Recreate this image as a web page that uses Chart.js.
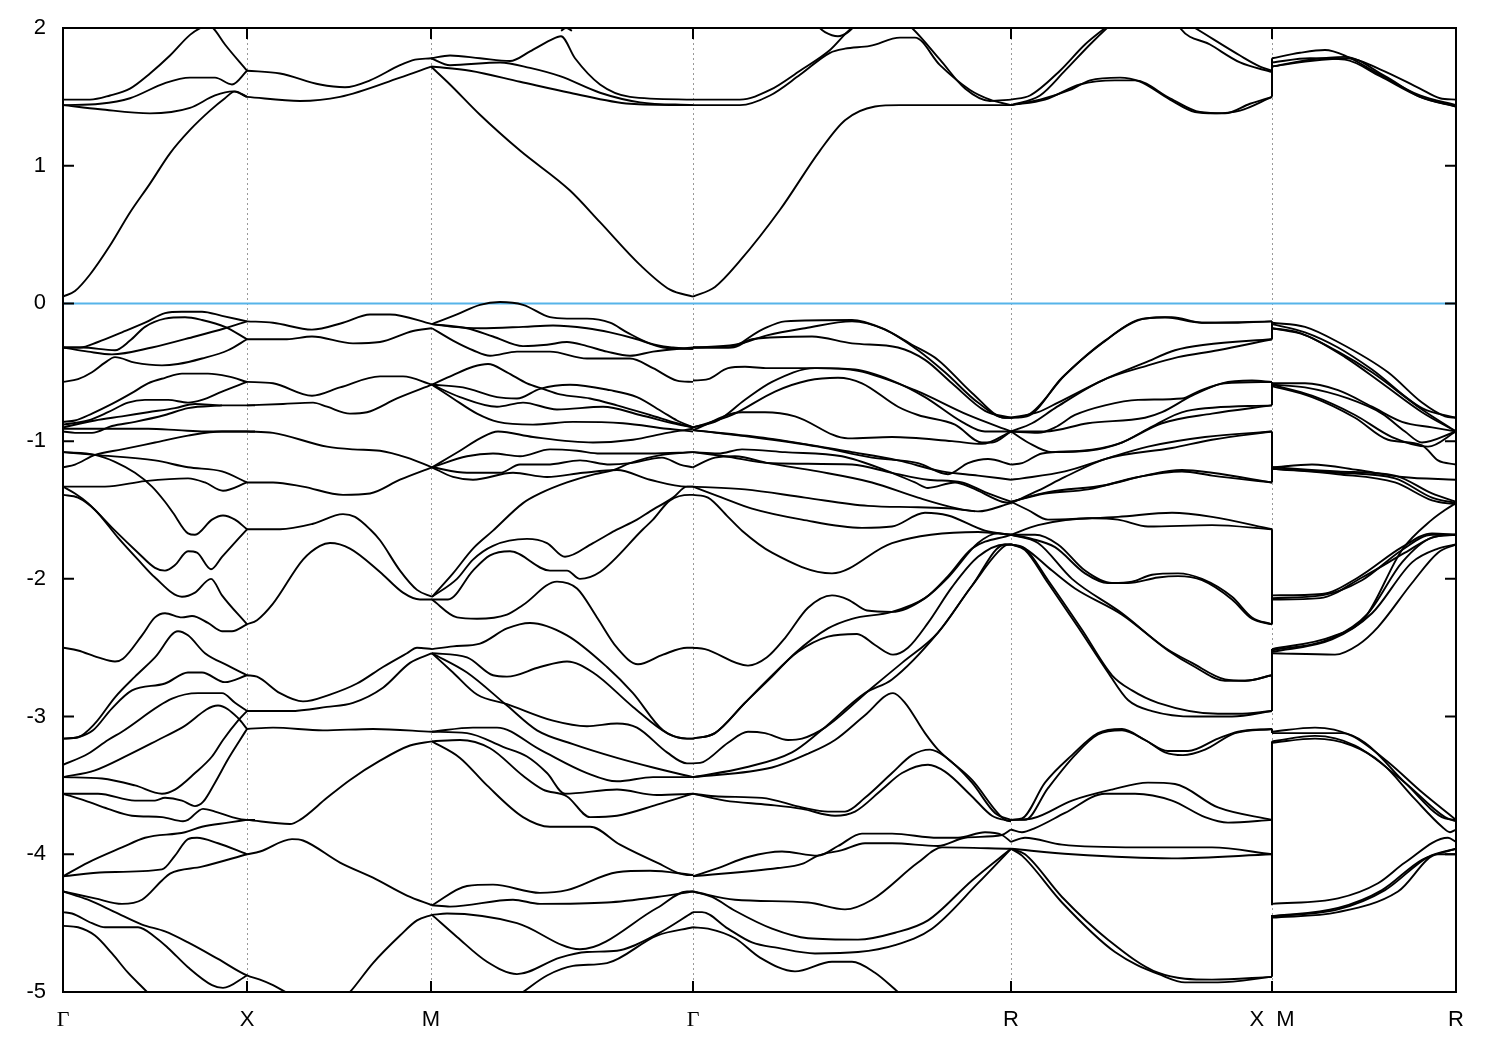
<!DOCTYPE html>
<html>
<head>
<meta charset="utf-8">
<title>Band structure</title>
<script src="https://cdn.jsdelivr.net/npm/chart.js@4/dist/chart.umd.min.js"></script>
<style>
html, body { margin: 0; padding: 0; background: #fff; }
canvas { display: block; }
</style>
</head>
<body>
<canvas id="bands" width="1500" height="1050"></canvas>
<script>
// path positions along k and their labels
const kTicks = [0, 184, 368, 630, 948, 1209, 1393];
const kLabels = ['Γ', 'X', 'M', 'Γ', 'R', 'X  M', 'R'];
const energyTicks = [-5, -4, -3, -2, -1, 0, 1, 2];
const fermiLevel = [0, 0];

// every band piece is k, E, k, E, ...
const conduction = [
  [0,.05, 12,.09, 27,.21, 47,.42, 67,.66, 87,.87, 107,1.09, 127,1.26, 147,1.40, 162,1.49, 172,1.54, 184,1.50],
  [0,1.48, 27,1.48, 47,1.51, 67,1.56, 87,1.67, 107,1.80, 127,1.95, 140,2.01, 144,2.02, 150,2.0, 162,1.88, 184,1.69],
  [0,1.44, 37,1.45, 67,1.49, 102,1.60, 127,1.64, 152,1.64, 169,1.59, 184,1.69],
  [0,1.44, 37,1.41, 87,1.38, 127,1.42, 152,1.51, 170,1.54, 184,1.50],
  [184,1.50, 237,1.47, 277,1.50, 337,1.64, 368,1.72],
  [184,1.69, 217,1.67, 257,1.59, 282,1.57, 307,1.62, 337,1.73, 352,1.77, 368,1.78],
  [368,1.72, 387,1.59, 417,1.37, 457,1.11, 507,.82, 537,.59, 577,.28, 607,.10, 630,.05],
  [368,1.78, 387,1.80, 417,1.78, 447,1.76, 467,1.83, 487,1.91, 498,1.94, 512,1.78, 537,1.59, 567,1.50, 630,1.48],
  [368,1.72, 407,1.69, 457,1.61, 507,1.53, 567,1.45, 630,1.44],
  [368,1.78, 387,1.73, 437,1.75, 467,1.71, 497,1.65, 537,1.53, 577,1.46, 630,1.44],
  [498,1.98, 503,2.0, 509,1.98],
  [630,.05, 652,.12, 677,.31, 717,.68, 757,1.11, 782,1.33, 812,1.43, 837,1.44, 948,1.44],
  [630,1.48, 677,1.48, 707,1.55, 737,1.69, 767,1.84, 787,1.99, 797,2.04],
  [630,1.44, 677,1.44, 707,1.51, 737,1.66, 767,1.82, 782,1.85, 807,1.87, 837,1.93, 852,1.93, 877,1.73, 907,1.55, 927,1.48, 948,1.44],
  [752,2.03, 762,1.97, 775,1.94, 785,1.97, 795,2.04],
  [842,2.04, 849,2.0, 877,1.77, 902,1.56, 927,1.47, 948,1.48],
  [948,1.48, 967,1.51, 997,1.69, 1022,1.88, 1042,2.0, 1052,2.06],
  [948,1.44, 977,1.51, 1002,1.69, 1027,1.88, 1047,2.02, 1055,2.07],
  [1115,2.03, 1117,2.0, 1147,1.88, 1177,1.75, 1209,1.68],
  [1125,2.03, 1132,2.0, 1177,1.80, 1197,1.72, 1209,1.69],
  [948,1.44, 977,1.48, 1007,1.55, 1027,1.62, 1057,1.64, 1077,1.61, 1107,1.48, 1132,1.39, 1152,1.38, 1177,1.40, 1209,1.50],
  [948,1.44, 982,1.48, 1017,1.59, 1052,1.62, 1072,1.62, 1107,1.49, 1137,1.39, 1162,1.38, 1187,1.45, 1209,1.50],
  [1209,1.78, 1237,1.82, 1262,1.84, 1282,1.80, 1317,1.66, 1357,1.51, 1393,1.44],
  [1209,1.75, 1247,1.78, 1282,1.77, 1317,1.65, 1357,1.50, 1393,1.43],
  [1209,1.72, 1247,1.77, 1282,1.79, 1322,1.65, 1357,1.50, 1393,1.43],
  [1209,1.72, 1247,1.76, 1285,1.78, 1317,1.70, 1357,1.56, 1377,1.49, 1393,1.48]
];

const gammaToX = [
  [0,-.32, 17,-.32, 35,-.28, 59,-.21, 82,-.14, 102,-.07, 119,-.06, 139,-.06, 159,-.09, 184,-.13],
  [0,-.32, 19,-.32, 52,-.34, 67,-.27, 82,-.17, 102,-.11, 122,-.10, 139,-.12, 162,-.17, 184,-.26],
  [0,-.32, 25,-.35, 49,-.37, 89,-.32, 132,-.24, 162,-.18, 184,-.13],
  [0,-.57, 15,-.55, 29,-.50, 42,-.43, 52,-.39, 72,-.43, 99,-.45, 115,-.44, 139,-.40, 165,-.34, 184,-.26],
  [0,-.86, 12,-.85, 29,-.80, 49,-.73, 69,-.65, 85,-.58, 102,-.54, 119,-.51, 145,-.51, 165,-.53, 184,-.57],
  [0,-.88, 25,-.85, 45,-.79, 65,-.72, 82,-.70, 105,-.70, 125,-.72, 139,-.70, 159,-.64, 184,-.57],
  [0,-.90, 32,-.85, 59,-.82, 85,-.79, 112,-.76, 132,-.73, 159,-.74, 192,-.74],
  [0,-.93, 12,-.94, 29,-.94, 49,-.89, 72,-.86, 102,-.81, 125,-.76, 159,-.74],
  [0,-.91, 42,-.91, 85,-.91, 115,-.92, 142,-.93, 192,-.93],
  [0,-1.19, 12,-1.17, 32,-1.10, 59,-1.06, 92,-1.01, 125,-.96, 159,-.93, 184,-.93],
  [0,-1.08, 32,-1.10, 92,-1.14, 125,-1.19, 159,-1.22, 184,-1.30],
  [0,-1.08, 32,-1.10, 52,-1.15, 72,-1.23, 89,-1.33, 102,-1.44, 110,-1.52, 125,-1.67, 132,-1.68, 149,-1.57, 160,-1.54, 172,-1.57, 184,-1.64],
  [0,-1.33, 42,-1.33, 82,-1.29, 125,-1.27, 142,-1.30, 160,-1.36, 184,-1.30],
  [0,-1.33, 12,-1.38, 25,-1.45, 52,-1.65, 75,-1.81, 92,-1.92, 102,-1.94, 112,-1.90, 125,-1.80, 134,-1.81, 148,-1.93, 159,-1.84, 184,-1.64],
  [0,-1.39, 15,-1.41, 32,-1.50, 55,-1.70, 75,-1.86, 92,-1.99, 119,-2.13, 132,-2.10, 148,-2.00, 159,-2.12, 184,-2.33],
  [0,-2.50, 15,-2.52, 35,-2.57, 52,-2.60, 60,-2.58, 79,-2.41, 92,-2.28, 102,-2.25, 119,-2.28, 129,-2.27, 145,-2.32, 159,-2.38, 169,-2.38, 184,-2.33],
  [0,-3.16, 15,-3.15, 32,-3.05, 52,-2.86, 72,-2.71, 92,-2.57, 115,-2.38, 125,-2.41, 142,-2.54, 165,-2.63, 184,-2.70],
  [0,-3.16, 15,-3.15, 30,-3.10, 49,-2.94, 69,-2.81, 102,-2.76, 125,-2.68, 139,-2.68, 162,-2.75, 184,-2.70],
  [0,-3.35, 25,-3.27, 45,-3.17, 59,-3.11, 109,-2.87, 135,-2.83, 159,-2.83, 172,-2.90, 184,-2.96],
  [0,-3.44, 32,-3.39, 65,-3.28, 95,-3.17, 119,-3.08, 155,-2.92, 175,-3.01, 184,-3.09],
  [0,-3.44, 39,-3.45, 72,-3.50, 99,-3.56, 112,-3.53, 132,-3.41, 149,-3.29, 160,-3.17, 175,-3.03, 184,-2.96],
  [0,-3.56, 35,-3.56, 72,-3.61, 92,-3.61, 102,-3.59, 119,-3.61, 132,-3.65, 140,-3.62, 152,-3.48, 165,-3.31, 177,-3.17, 184,-3.09],
  [0,-3.56, 22,-3.61, 45,-3.67, 69,-3.72, 99,-3.73, 120,-3.76, 125,-3.75, 140,-3.67, 152,-3.69, 169,-3.73, 184,-3.75, 192,-3.75],
  [0,-4.16, 25,-4.06, 59,-3.95, 82,-3.88, 122,-3.84, 139,-3.80, 165,-3.77, 184,-3.75],
  [0,-4.16, 42,-4.13, 99,-4.11, 112,-4.01, 125,-3.89, 134,-3.88, 155,-3.92, 184,-4.0],
  [0,-4.27, 32,-4.32, 59,-4.36, 79,-4.33, 99,-4.19, 107,-4.14, 139,-4.09, 184,-4.0],
  [0,-4.27, 25,-4.33, 52,-4.42, 79,-4.51, 102,-4.56, 125,-4.64, 155,-4.76, 184,-4.88, 197,-4.91, 210,-4.95, 225,-5.01],
  [0,-4.42, 9,-4.43, 29,-4.50, 42,-4.53, 75,-4.53, 92,-4.60, 105,-4.68, 125,-4.82, 149,-4.95, 160,-4.97, 184,-4.88],
  [0,-4.52, 15,-4.53, 32,-4.59, 49,-4.72, 65,-4.86, 84,-5.0, 90,-5.05]
];

const xToM = [
  [184,-.13, 210,-.14, 249,-.19, 280,-.14, 307,-.08, 327,-.08, 369,-.15],
  [184,-.26, 224,-.26, 249,-.24, 290,-.29, 317,-.28, 350,-.20, 369,-.18],
  [184,-.57, 210,-.58, 249,-.67, 277,-.61, 317,-.53, 340,-.53, 369,-.59],
  [184,-.74, 220,-.73, 250,-.72, 264,-.75, 287,-.80, 304,-.79, 334,-.69, 369,-.59],
  [184,-.93, 210,-.94, 264,-1.04, 290,-1.06, 317,-1.07, 344,-1.12, 369,-1.19],
  [184,-1.30, 210,-1.30, 240,-1.33, 280,-1.39, 307,-1.38, 337,-1.28, 369,-1.19],
  [184,-1.64, 217,-1.64, 250,-1.60, 280,-1.53, 292,-1.55, 307,-1.64, 317,-1.72, 337,-1.94, 354,-2.08, 369,-2.13],
  [184,-2.33, 194,-2.30, 210,-2.18, 240,-1.86, 257,-1.76, 267,-1.74, 287,-1.78, 317,-1.95, 340,-2.10, 357,-2.15, 369,-2.15],
  [184,-2.70, 194,-2.71, 217,-2.83, 240,-2.89, 267,-2.84, 294,-2.76, 320,-2.64, 344,-2.54, 354,-2.50, 369,-2.51],
  [184,-2.96, 227,-2.96, 264,-2.93, 290,-2.90, 320,-2.79, 347,-2.61, 369,-2.54],
  [184,-3.09, 210,-3.08, 260,-3.10, 310,-3.09, 369,-3.11],
  [184,-3.75, 227,-3.78, 237,-3.75, 264,-3.59, 287,-3.46, 317,-3.32, 347,-3.21, 369,-3.18],
  [184,-4.0, 197,-3.98, 229,-3.89, 240,-3.90, 277,-4.06, 310,-4.17, 344,-4.30, 369,-4.37],
  [280,-5.05, 287,-5.0, 310,-4.79, 337,-4.59, 354,-4.48, 369,-4.44]
];

const mToGamma = [
  [369,-.15, 394,-.08, 417,-.01, 437,.01, 460,-.01, 487,-.10, 504,-.11, 524,-.11, 547,-.14, 564,-.21, 587,-.29, 610,-.32, 630,-.33],
  [369,-.15, 390,-.17, 417,-.18, 460,-.17, 490,-.16, 524,-.18, 547,-.21, 574,-.26, 600,-.32, 630,-.33],
  [369,-.15, 404,-.18, 430,-.24, 460,-.31, 484,-.30, 504,-.28, 524,-.31, 544,-.35, 567,-.38, 590,-.35, 630,-.32],
  [369,-.18, 390,-.27, 410,-.34, 427,-.38, 454,-.35, 487,-.35, 524,-.40, 567,-.40, 590,-.47, 614,-.56, 630,-.57],
  [369,-.59, 390,-.52, 410,-.46, 425,-.44, 444,-.50, 464,-.58, 480,-.62, 497,-.66, 527,-.69, 554,-.74, 587,-.81, 614,-.87, 630,-.90],
  [369,-.59, 400,-.61, 434,-.68, 454,-.69, 477,-.62, 507,-.59, 547,-.63, 574,-.68, 600,-.79, 614,-.85, 630,-.90],
  [369,-.59, 397,-.68, 434,-.75, 460,-.72, 494,-.77, 540,-.75, 577,-.81, 610,-.87, 630,-.90],
  [369,-.59, 390,-.69, 414,-.80, 435,-.86, 470,-.88, 510,-.86, 560,-.87, 604,-.91, 630,-.93],
  [369,-1.19, 397,-1.07, 417,-.98, 435,-.93, 470,-.97, 530,-1.01, 570,-.99, 604,-.94, 630,-.91],
  [369,-1.19, 404,-1.11, 430,-1.09, 457,-1.11, 487,-1.06, 514,-1.07, 537,-1.09, 587,-1.09, 630,-1.08],
  [369,-1.19, 404,-1.23, 437,-1.23, 457,-1.17, 484,-1.17, 517,-1.14, 547,-1.17, 567,-1.16, 599,-1.12, 617,-1.17, 630,-1.19],
  [369,-1.19, 390,-1.26, 410,-1.28, 450,-1.23, 484,-1.26, 520,-1.23, 554,-1.21, 587,-1.28, 624,-1.33, 630,-1.33],
  [369,-2.13, 390,-1.96, 410,-1.78, 430,-1.65, 460,-1.45, 477,-1.38, 504,-1.30, 532,-1.24, 550,-1.21, 567,-1.16, 599,-1.10, 630,-1.08],
  [369,-2.13, 394,-2.0, 410,-1.86, 430,-1.76, 464,-1.71, 484,-1.74, 502,-1.84, 530,-1.74, 552,-1.65, 574,-1.57, 587,-1.51, 610,-1.41, 624,-1.33, 630,-1.33],
  [369,-2.15, 385,-2.15, 410,-1.94, 427,-1.83, 447,-1.80, 487,-1.94, 504,-1.94, 517,-2.0, 537,-1.95, 580,-1.64, 590,-1.57, 607,-1.43, 627,-1.39, 630,-1.39],
  [369,-2.15, 394,-2.28, 414,-2.29, 444,-2.26, 460,-2.19, 494,-2.02, 514,-2.07, 534,-2.28, 554,-2.50, 575,-2.62, 600,-2.55, 624,-2.50, 630,-2.50],
  [369,-2.51, 390,-2.49, 417,-2.47, 444,-2.36, 467,-2.32, 504,-2.41, 544,-2.64, 570,-2.83, 600,-3.10, 624,-3.16, 630,-3.16],
  [369,-2.54, 404,-2.57, 430,-2.70, 444,-2.71, 477,-2.64, 504,-2.60, 530,-2.68, 570,-2.93, 604,-3.12, 624,-3.16, 630,-3.16],
  [369,-2.54, 390,-2.68, 414,-2.84, 444,-2.91, 490,-3.03, 524,-3.07, 554,-3.05, 574,-3.08, 604,-3.26, 624,-3.34, 630,-3.34],
  [369,-2.54, 404,-2.68, 444,-2.92, 474,-3.10, 510,-3.20, 554,-3.30, 590,-3.37, 630,-3.44],
  [369,-3.11, 410,-3.08, 434,-3.08, 477,-3.24, 524,-3.41, 554,-3.47, 590,-3.44, 630,-3.44],
  [369,-3.11, 404,-3.12, 440,-3.22, 464,-3.29, 484,-3.41, 502,-3.56, 554,-3.53, 594,-3.57, 630,-3.56],
  [369,-3.18, 397,-3.17, 427,-3.23, 460,-3.43, 480,-3.53, 504,-3.58, 527,-3.73, 554,-3.72, 594,-3.64, 630,-3.56],
  [369,-3.18, 397,-3.30, 424,-3.50, 460,-3.73, 487,-3.80, 527,-3.80, 557,-3.93, 594,-4.06, 624,-4.15, 630,-4.15],
  [369,-4.37, 404,-4.23, 430,-4.22, 477,-4.28, 504,-4.26, 554,-4.13, 587,-4.12, 630,-4.15],
  [369,-4.37, 387,-4.38, 450,-4.33, 477,-4.36, 544,-4.35, 594,-4.31, 630,-4.27],
  [369,-4.44, 384,-4.43, 454,-4.50, 517,-4.69, 594,-4.39, 624,-4.27, 630,-4.27],
  [369,-4.44, 394,-4.60, 424,-4.78, 454,-4.87, 497,-4.75, 524,-4.71, 554,-4.70, 594,-4.58, 630,-4.42],
  [460,-5.0, 484,-4.88, 510,-4.81, 544,-4.79, 594,-4.59, 630,-4.53]
];

const gammaToR = [
  [630,-.32, 665,-.32, 699,-.19, 722,-.13, 789,-.12, 819,-.18, 849,-.30, 875,-.41, 909,-.65, 942,-.83, 948,-.83],
  [630,-.32, 672,-.30, 705,-.23, 742,-.18, 789,-.13, 822,-.19, 855,-.34, 882,-.50, 915,-.72, 942,-.83, 948,-.83],
  [630,-.32, 669,-.32, 689,-.26, 749,-.24, 789,-.29, 835,-.32, 862,-.41, 889,-.58, 922,-.78, 948,-.83],
  [630,-.56, 645,-.55, 665,-.47, 682,-.46, 705,-.47, 755,-.47, 795,-.49, 852,-.63, 905,-.81, 948,-.93],
  [630,-.90, 655,-.85, 682,-.70, 709,-.57, 752,-.47, 792,-.48, 829,-.56, 862,-.68, 899,-.86, 922,-.93, 948,-.93],
  [630,-.90, 669,-.81, 712,-.64, 745,-.56, 775,-.54, 799,-.58, 835,-.75, 855,-.81, 892,-.88, 919,-1.01, 929,-1.01, 948,-.93],
  [630,-.92, 679,-.79, 702,-.79, 732,-.82, 785,-.98, 829,-.97, 889,-1.0, 919,-1.02, 948,-.93],
  [630,-.92, 689,-.97, 755,-1.04, 809,-1.12, 855,-1.16, 885,-1.24, 905,-1.16, 925,-1.13, 948,-1.17],
  [630,-.92, 705,-.98, 789,-1.08, 835,-1.14, 879,-1.22, 915,-1.25, 948,-1.28],
  [630,-1.08, 655,-1.09, 679,-1.06, 722,-1.08, 779,-1.11, 822,-1.21, 852,-1.30, 865,-1.34, 892,-1.30, 909,-1.34, 939,-1.44, 948,-1.45],
  [630,-1.08, 662,-1.11, 709,-1.16, 789,-1.17, 829,-1.23, 865,-1.28, 899,-1.30, 922,-1.37, 948,-1.44],
  [630,-1.19, 652,-1.12, 672,-1.11, 705,-1.16, 755,-1.22, 809,-1.30, 855,-1.41, 895,-1.49, 915,-1.51, 948,-1.45],
  [630,-1.33, 682,-1.35, 742,-1.41, 805,-1.47, 855,-1.48, 889,-1.49, 912,-1.51],
  [630,-1.33, 659,-1.41, 689,-1.49, 739,-1.57, 799,-1.63, 829,-1.62, 862,-1.52, 885,-1.54, 922,-1.65, 948,-1.68],
  [630,-1.39, 645,-1.41, 665,-1.55, 679,-1.65, 709,-1.81, 769,-1.96, 829,-1.74, 915,-1.66, 948,-1.68],
  [630,-3.16, 652,-3.12, 682,-2.90, 709,-2.71, 732,-2.54, 765,-2.36, 789,-2.29, 829,-2.24, 862,-2.14, 885,-1.99, 915,-1.74, 935,-1.67, 948,-1.68],
  [630,-2.50, 642,-2.51, 685,-2.63, 704,-2.57, 722,-2.43, 745,-2.21, 769,-2.12, 785,-2.15, 804,-2.23, 829,-2.24, 862,-2.14, 885,-1.98, 909,-1.78, 948,-1.68],
  [630,-3.16, 652,-3.12, 682,-2.90, 705,-2.73, 735,-2.53, 765,-2.42, 794,-2.40, 812,-2.48, 830,-2.55, 845,-2.50, 865,-2.32, 889,-2.06, 915,-1.84, 942,-1.75, 948,-1.75],
  [630,-3.34, 640,-3.33, 665,-3.19, 685,-3.11, 702,-3.12, 725,-3.17, 739,-3.16, 762,-3.08, 809,-2.79, 839,-2.61, 875,-2.39, 909,-2.05, 942,-1.76, 948,-1.75],
  [630,-3.44, 682,-3.37, 729,-3.26, 755,-3.12, 802,-2.83, 829,-2.73, 875,-2.39, 909,-2.05, 942,-1.75, 948,-1.75],
  [630,-3.44, 709,-3.37, 745,-3.27, 772,-3.17, 802,-2.99, 830,-2.83, 842,-2.90, 862,-3.12, 875,-3.24, 909,-3.46, 942,-3.75, 948,-3.76],
  [630,-3.56, 655,-3.58, 699,-3.59, 739,-3.66, 765,-3.69, 782,-3.69, 802,-3.59, 829,-3.41, 849,-3.28, 867,-3.24, 882,-3.29, 909,-3.48, 932,-3.70, 948,-3.75],
  [630,-3.56, 662,-3.61, 705,-3.64, 739,-3.67, 772,-3.72, 792,-3.69, 819,-3.53, 839,-3.41, 865,-3.35, 882,-3.40, 909,-3.58, 929,-3.72, 948,-3.76],
  [630,-4.16, 655,-4.10, 685,-4.02, 719,-3.98, 755,-4.01, 775,-3.94, 799,-3.85, 829,-3.85, 875,-3.88, 895,-3.88, 922,-3.84, 939,-3.86, 948,-3.91],
  [630,-4.16, 715,-4.10, 739,-4.07, 755,-4.01, 779,-3.97, 802,-3.92, 829,-3.92, 875,-3.94, 902,-3.88, 939,-3.86, 948,-3.82],
  [630,-4.27, 672,-4.33, 745,-4.35, 782,-4.40, 809,-4.33, 855,-4.06, 879,-3.95, 948,-3.96],
  [630,-4.27, 649,-4.31, 672,-4.41, 709,-4.54, 745,-4.61, 795,-4.62, 832,-4.57, 865,-4.48, 909,-4.19, 948,-3.96],
  [630,-4.42, 639,-4.42, 665,-4.54, 689,-4.64, 715,-4.68, 752,-4.72, 795,-4.71, 832,-4.66, 869,-4.54, 915,-4.21, 948,-3.96],
  [630,-4.53, 645,-4.54, 672,-4.61, 697,-4.75, 732,-4.85, 769,-4.78, 789,-4.78, 812,-4.86, 835,-5.0, 845,-5.06]
];

const rToX = [
  [948,-.83, 965,-.81, 1002,-.52, 1042,-.27, 1082,-.11, 1109,-.10, 1139,-.14, 1175,-.14, 1209,-.13],
  [948,-.83, 964,-.82, 999,-.54, 1039,-.29, 1075,-.12, 1102,-.10, 1139,-.14, 1209,-.13],
  [948,-.83, 975,-.79, 995,-.72, 1039,-.56, 1082,-.43, 1112,-.34, 1142,-.30, 1209,-.26],
  [948,-.93, 969,-.87, 992,-.76, 1039,-.56, 1085,-.45, 1115,-.39, 1155,-.34, 1209,-.26],
  [948,-.93, 975,-.94, 992,-.90, 1012,-.81, 1042,-.74, 1075,-.70, 1119,-.69, 1135,-.64, 1162,-.58, 1209,-.57],
  [948,-.93, 982,-.93, 1025,-.87, 1082,-.83, 1099,-.79, 1129,-.67, 1159,-.58, 1189,-.56, 1209,-.57],
  [948,-.93, 965,-1.01, 989,-1.08, 1025,-1.07, 1059,-1.01, 1085,-.91, 1124,-.78, 1209,-.74],
  [948,-1.17, 959,-1.16, 979,-1.09, 1019,-1.07, 1055,-1.02, 1099,-.87, 1149,-.80, 1209,-.74],
  [948,-1.28, 959,-1.27, 1002,-1.22, 1042,-1.13, 1085,-1.04, 1142,-.97, 1209,-.93],
  [948,-1.45, 975,-1.36, 1002,-1.26, 1042,-1.13, 1109,-1.05, 1149,-.99, 1209,-.93],
  [948,-1.44, 985,-1.37, 1042,-1.32, 1082,-1.25, 1119,-1.21, 1149,-1.23, 1209,-1.30],
  [948,-1.44, 982,-1.38, 1025,-1.35, 1075,-1.26, 1119,-1.22, 1149,-1.25, 1209,-1.30],
  [948,-1.44, 965,-1.50, 985,-1.57, 1025,-1.56, 1055,-1.55, 1109,-1.52, 1149,-1.55, 1209,-1.64],
  [948,-1.68, 975,-1.61, 1029,-1.56, 1055,-1.57, 1085,-1.62, 1149,-1.61, 1209,-1.64],
  [948,-1.68, 972,-1.68, 995,-1.75, 1022,-1.94, 1049,-2.03, 1069,-2.02, 1089,-1.97, 1115,-1.96, 1139,-2.0, 1169,-2.13, 1189,-2.28, 1209,-2.33],
  [948,-1.68, 969,-1.71, 992,-1.77, 1022,-1.96, 1045,-2.03, 1065,-2.03, 1095,-1.99, 1115,-1.98, 1139,-2.01, 1169,-2.15, 1189,-2.29, 1209,-2.33],
  [948,-1.68, 975,-1.74, 1009,-2.0, 1059,-2.25, 1102,-2.50, 1129,-2.61, 1162,-2.73, 1182,-2.74, 1209,-2.70],
  [948,-1.75, 962,-1.78, 989,-1.94, 1012,-2.07, 1059,-2.26, 1105,-2.52, 1132,-2.64, 1162,-2.74, 1182,-2.74, 1209,-2.70],
  [948,-1.75, 962,-1.78, 985,-2.01, 1019,-2.37, 1049,-2.70, 1069,-2.81, 1095,-2.90, 1155,-2.98, 1175,-2.98, 1209,-2.96],
  [948,-1.75, 962,-1.79, 985,-2.03, 1015,-2.35, 1045,-2.68, 1065,-2.88, 1089,-2.96, 1132,-3.0, 1169,-3.0, 1209,-2.96],
  [948,-3.75, 959,-3.74, 982,-3.48, 1009,-3.28, 1035,-3.12, 1059,-3.09, 1082,-3.17, 1105,-3.25, 1125,-3.25, 1155,-3.16, 1175,-3.11, 1209,-3.09],
  [948,-3.75, 962,-3.75, 985,-3.52, 1012,-3.28, 1035,-3.13, 1059,-3.10, 1082,-3.17, 1102,-3.26, 1120,-3.28, 1142,-3.24, 1172,-3.12, 1209,-3.09],
  [948,-3.75, 969,-3.74, 1009,-3.61, 1049,-3.53, 1085,-3.48, 1112,-3.49, 1155,-3.66, 1209,-3.75],
  [948,-3.82, 959,-3.84, 972,-3.81, 1002,-3.70, 1042,-3.56, 1072,-3.56, 1109,-3.61, 1142,-3.73, 1165,-3.77, 1209,-3.75],
  [948,-3.91, 962,-3.88, 999,-3.93, 1075,-3.95, 1149,-3.95, 1209,-4.0],
  [948,-3.96, 1009,-4.0, 1109,-4.03, 1209,-4.0],
  [948,-3.96, 962,-4.0, 999,-4.31, 1045,-4.62, 1095,-4.86, 1149,-4.91, 1209,-4.89],
  [948,-3.96, 959,-4.01, 999,-4.35, 1052,-4.71, 1099,-4.88, 1122,-4.93, 1155,-4.93, 1209,-4.89]
];

const mToR = [
  [1209,-.14, 1242,-.17, 1275,-.28, 1325,-.50, 1359,-.72, 1382,-.82, 1393,-.83],
  [1209,-.15, 1242,-.21, 1275,-.32, 1309,-.48, 1359,-.76, 1393,-.83],
  [1209,-.18, 1235,-.21, 1275,-.35, 1309,-.50, 1359,-.77, 1393,-.93],
  [1209,-.18, 1242,-.23, 1282,-.39, 1319,-.58, 1359,-.79, 1393,-.93],
  [1209,-.58, 1242,-.58, 1275,-.63, 1309,-.75, 1339,-.86, 1369,-.90, 1393,-.93],
  [1209,-.59, 1242,-.61, 1285,-.69, 1319,-.80, 1342,-.93, 1359,-1.01, 1393,-.93],
  [1209,-.59, 1249,-.67, 1292,-.81, 1329,-.97, 1365,-1.04, 1393,-.93],
  [1209,-.60, 1249,-.68, 1292,-.83, 1325,-.99, 1359,-1.03, 1375,-1.14, 1393,-1.17],
  [1209,-1.19, 1249,-1.17, 1295,-1.21, 1339,-1.26, 1393,-1.28],
  [1209,-1.19, 1275,-1.22, 1332,-1.25, 1369,-1.38, 1393,-1.44],
  [1209,-1.20, 1275,-1.23, 1332,-1.27, 1369,-1.41, 1393,-1.45],
  [1209,-1.20, 1275,-1.24, 1332,-1.30, 1369,-1.43, 1393,-1.46],
  [1209,-2.12, 1259,-2.11, 1295,-1.99, 1339,-1.77, 1369,-1.67, 1393,-1.68],
  [1209,-2.14, 1259,-2.12, 1299,-2.01, 1339,-1.79, 1369,-1.68, 1393,-1.68],
  [1209,-2.15, 1257,-2.14, 1299,-1.99, 1342,-1.81, 1369,-1.70, 1393,-1.68],
  [1209,-2.51, 1269,-2.42, 1302,-2.28, 1339,-1.79, 1369,-1.57, 1382,-1.50, 1393,-1.45],
  [1209,-2.52, 1269,-2.43, 1305,-2.25, 1339,-1.88, 1369,-1.70, 1393,-1.68],
  [1209,-2.53, 1269,-2.44, 1309,-2.25, 1349,-1.88, 1375,-1.78, 1393,-1.75],
  [1209,-2.54, 1272,-2.55, 1295,-2.48, 1315,-2.35, 1349,-2.03, 1375,-1.81, 1393,-1.75],
  [1209,-3.11, 1252,-3.08, 1289,-3.14, 1325,-3.33, 1359,-3.55, 1393,-3.75],
  [1209,-3.12, 1242,-3.12, 1279,-3.12, 1302,-3.19, 1342,-3.48, 1382,-3.74, 1393,-3.75],
  [1209,-3.18, 1252,-3.14, 1292,-3.21, 1342,-3.48, 1382,-3.73, 1393,-3.76],
  [1209,-3.19, 1252,-3.16, 1289,-3.21, 1319,-3.34, 1352,-3.60, 1379,-3.80, 1387,-3.84, 1393,-3.82],
  [1209,-4.36, 1275,-4.32, 1315,-4.21, 1342,-4.06, 1385,-3.88, 1393,-3.91],
  [1209,-4.45, 1275,-4.39, 1319,-4.26, 1359,-4.04, 1393,-3.96],
  [1209,-4.45, 1275,-4.40, 1322,-4.26, 1365,-4.02, 1393,-3.96],
  [1209,-4.46, 1275,-4.42, 1335,-4.27, 1375,-4.00, 1393,-4.0]
];

// bands jump where the path breaks between X and M
const breakK = 1209;
const breakJumps = [
  [1.50, 1.78], [-.13, -.26], [-.57, -.74], [-.93, -1.30], [-1.64, -2.33],
  [-2.51, -2.96], [-3.09, -3.12], [-3.18, -4.37], [-4.44, -4.89]
];

const toPoints = (flat) => {
  const pts = [];
  for (let i = 0; i < flat.length; i += 2) {
    pts.push({ x: flat[i], y: flat[i + 1] });
  }
  return pts;
};

const bandDatasets = [conduction, gammaToX, xToM, mToGamma, gammaToR, rToX, mToR]
  .flat()
  .map(band => ({
    data: toPoints(band),
    borderColor: '#000',
    borderWidth: 1.9,
    pointRadius: 0,
    cubicInterpolationMode: 'monotone'
  }));

const jumpDatasets = breakJumps.map(j => ({
  data: [{ x: breakK, y: j[0] }, { x: breakK, y: j[1] }],
  borderColor: '#000',
  borderWidth: 2,
  pointRadius: 0
}));

// frame and inward tics like the plot program draws them
const framePlugin = {
  id: 'frame',
  afterDatasetsDraw(chart) {
    const { ctx, chartArea: a, scales } = chart;
    ctx.save();
    ctx.strokeStyle = '#000';
    ctx.lineWidth = 2;
    ctx.beginPath();
    energyTicks.forEach(v => {
      const y = scales.y.getPixelForValue(v);
      ctx.moveTo(a.left, y);
      ctx.lineTo(a.left + 11, y);
      ctx.moveTo(a.right, y);
      ctx.lineTo(a.right - 11, y);
    });
    kTicks.forEach(v => {
      const x = scales.x.getPixelForValue(v);
      ctx.moveTo(x, a.bottom);
      ctx.lineTo(x, a.bottom - 11);
      ctx.moveTo(x, a.top);
      ctx.lineTo(x, a.top + 11);
    });
    ctx.stroke();
    ctx.strokeRect(a.left, a.top, a.right - a.left, a.bottom - a.top);
    ctx.restore();
  }
};

new Chart(document.getElementById('bands').getContext('2d'), {
  type: 'scatter',
  data: {
    datasets: [
      ...bandDatasets,
      ...jumpDatasets,
      {
        data: [{ x: 0, y: fermiLevel[0] }, { x: 1393, y: fermiLevel[1] }],
        borderColor: '#56b4e9',
        borderWidth: 2,
        pointRadius: 0
      }
    ]
  },
  options: {
    responsive: false,
    animation: false,
    showLine: true,
    devicePixelRatio: 1,
    layout: { padding: { top: 28, right: 44, left: 0, bottom: 0 } },
    plugins: { legend: { display: false }, tooltip: { enabled: false } },
    scales: {
      x: {
        type: 'linear',
        min: 0,
        max: 1393,
        afterFit: s => { s.height = 58; },
        afterBuildTicks: axis => { axis.ticks = kTicks.map(v => ({ value: v })); },
        border: { display: false, dash: [2, 3] },
        grid: { color: '#999', lineWidth: 1, drawTicks: false },
        ticks: {
          autoSkip: false,
          maxRotation: 0,
          padding: 15,
          color: '#000',
          callback: (v, i) => kLabels[i],
          font: c => ({
            family: kLabels[c.index] === 'Γ' ? '"Liberation Serif"' : '"Liberation Sans"',
            size: 22
          })
        }
      },
      y: {
        min: -5,
        max: 2,
        afterFit: s => { s.width = 63; s.paddingTop = 0; s.paddingBottom = 0; },
        border: { display: false },
        grid: { display: false, drawTicks: false },
        ticks: {
          stepSize: 1,
          padding: 17,
          color: '#000',
          font: { family: '"Liberation Sans"', size: 22 }
        }
      }
    }
  },
  plugins: [framePlugin]
});
</script>
</body>
</html>
